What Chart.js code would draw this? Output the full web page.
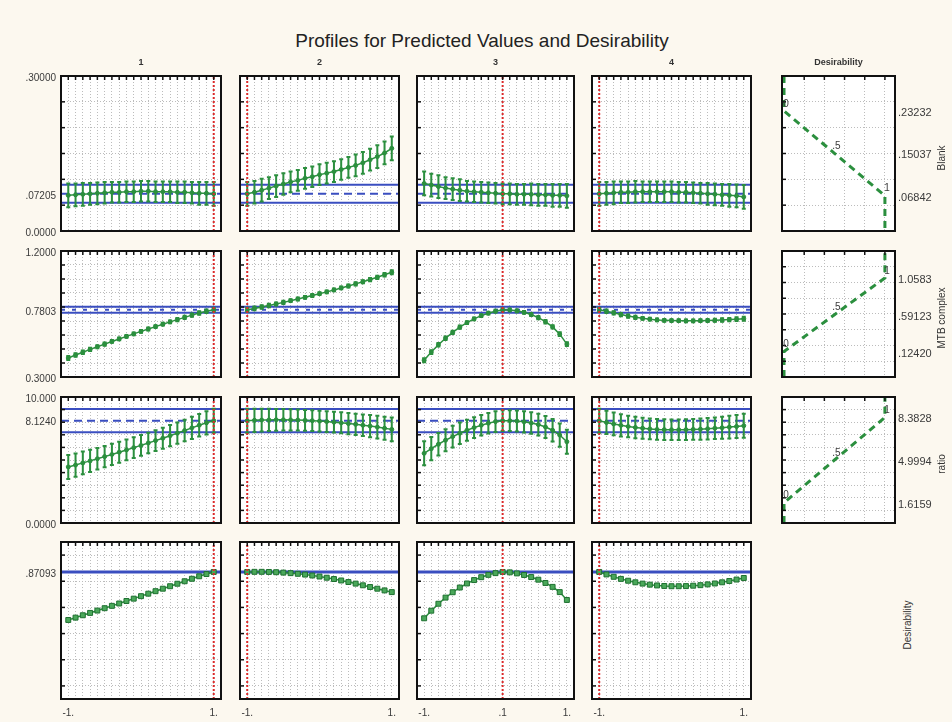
<!DOCTYPE html>
<html>
<head>
<meta charset="utf-8">
<title>Profiles for Predicted Values and Desirability</title>
<script src="https://cdn.jsdelivr.net/npm/chart.js@4.4.1/dist/chart.umd.min.js"></script>
<style>
  html, body { margin: 0; padding: 0; }
  body { width: 952px; height: 722px; background: #fcf8ef; position: relative; overflow: hidden;
         font-family: "Liberation Sans", Arial, sans-serif; color: #333; }
  canvas { position: absolute; }
  .lbl { position: absolute; white-space: nowrap; transform: translate(-50%, -50%); line-height: 1; }
</style>
</head>
<body>
<script>
// factor levels (x of every profile)
const xLevels = [-1,-0.9,-0.8,-0.7,-0.6,-0.5,-0.4,-0.3,-0.2,-0.1,0,0.1,0.2,0.3,0.4,0.5,0.6,0.7,0.8,0.9,1];
const factorNames = ['1', '2', '3', '4'];
const optimum = [1, -1, 0.1, -1];
const bottomVals = [[-1, 1], [-1, 1], [-1, 0.1, 1], [-1, 1]];
const bottomText = [['-1.', '1.'], ['-1.', '1.'], ['-1.', '.1', '1.'], ['-1.', '1.']];

// Blank
const blankF1 = [0.069,0.070,0.071,0.072,0.073,0.074,0.075,0.075,0.076,0.076,0.077,0.077,0.076,0.076,0.076,0.075,0.075,0.074,0.073,0.073,0.072];
const blankF2 = [0.072,0.075,0.079,0.083,0.087,0.091,0.095,0.098,0.102,0.105,0.109,0.112,0.115,0.119,0.123,0.127,0.132,0.138,0.144,0.151,0.160];
const blankF3 = [0.092,0.089,0.086,0.083,0.081,0.079,0.077,0.076,0.075,0.074,0.073,0.072,0.072,0.071,0.071,0.071,0.070,0.070,0.069,0.069,0.068];
const blankF4 = [0.072,0.073,0.074,0.075,0.075,0.076,0.076,0.076,0.076,0.076,0.076,0.075,0.075,0.074,0.073,0.072,0.071,0.070,0.069,0.068,0.066];
const blankErr = [0.023,0.022,0.022,0.021,0.021,0.021,0.020,0.020,0.020,0.020,0.020,0.020,0.020,0.020,0.020,0.021,0.021,0.021,0.022,0.022,0.023];
const blankRef = [0.0895, 0.07205, 0.0546];
const blankGrid = [0.05, 0.10, 0.15, 0.20, 0.25];
const blankTickVals = [0.3, 0.07205, 0];
const blankTickText = ['.30000', '.07205', '0.0000'];
const blankDesX = [0, 0, 0.5, 1, 1];
const blankDesY = [0.3, 0.23232, 0.15037, 0.06842, 0];
const blankDesText = ['.23232', '.15037', '.06842'];

// MTB complex
const mtbF1 = [0.436,0.457,0.477,0.497,0.516,0.535,0.554,0.572,0.590,0.608,0.626,0.643,0.660,0.677,0.694,0.710,0.726,0.742,0.757,0.770,0.780];
const mtbF2 = [0.780,0.790,0.800,0.811,0.822,0.833,0.845,0.857,0.869,0.882,0.895,0.908,0.922,0.936,0.950,0.965,0.980,0.996,1.012,1.030,1.048];
const mtbF3 = [0.420,0.478,0.530,0.577,0.619,0.656,0.688,0.715,0.738,0.756,0.770,0.780,0.779,0.773,0.762,0.746,0.724,0.695,0.658,0.606,0.535];
const mtbF4 = [0.780,0.770,0.758,0.746,0.735,0.726,0.719,0.713,0.708,0.705,0.703,0.702,0.701,0.701,0.702,0.703,0.705,0.707,0.710,0.713,0.716];
const mtbErr = [0.014,0.013,0.012,0.012,0.011,0.011,0.010,0.010,0.010,0.010,0.010,0.010,0.010,0.010,0.010,0.011,0.011,0.012,0.012,0.013,0.014];
const mtbRef = [0.801, 0.7803, 0.759];
const mtbGrid = [0.4, 0.5, 0.6, 0.7, 0.8, 0.9, 1.0, 1.1];
const mtbTickVals = [1.2, 0.7803, 0.3];
const mtbTickText = ['1.2000', '0.7803', '0.3000'];
const mtbDesX = [0, 0, 0.5, 1, 1];
const mtbDesY = [-0.2, 0.1242, 0.59123, 1.0583, 1.4];
const mtbDesText = ['.12420', '.59123', '1.0583'];
const mtbDesGrid = [0, 0.2, 0.4, 0.6, 0.8, 1.0, 1.2];

// ratio
const ratioF1 = [4.45,4.60,4.77,4.93,5.10,5.27,5.44,5.62,5.80,5.98,6.16,6.35,6.54,6.73,6.93,7.13,7.34,7.55,7.76,7.95,8.12];
const ratioF2 = [8.12,8.15,8.17,8.18,8.19,8.19,8.18,8.17,8.15,8.12,8.09,8.05,8.00,7.95,7.89,7.83,7.76,7.69,7.61,7.52,7.43];
const ratioF3 = [5.53,5.90,6.25,6.57,6.86,7.12,7.36,7.57,7.76,7.92,8.05,8.12,8.12,8.09,8.03,7.94,7.81,7.62,7.36,6.98,6.45];
const ratioF4 = [8.12,7.98,7.86,7.75,7.66,7.58,7.52,7.47,7.43,7.41,7.40,7.40,7.41,7.43,7.45,7.48,7.52,7.56,7.61,7.66,7.72];
const ratioErr = [0.95,0.92,0.90,0.88,0.86,0.85,0.84,0.83,0.82,0.82,0.82,0.82,0.82,0.83,0.84,0.85,0.86,0.88,0.90,0.92,0.95];
const ratioRef = [9.05, 8.124, 7.20];
const ratioGrid = [1, 2, 3, 4, 5, 6, 7, 8, 9];
const ratioTickVals = [10, 8.124, 0];
const ratioTickText = ['10.000', '8.1240', '0.0000'];
const ratioDesX = [0, 0, 0.5, 1, 1];
const ratioDesY = [0, 1.6159, 4.9994, 8.3828, 10];
const ratioDesText = ['1.6159', '4.9994', '8.3828'];

// Desirability
const desF1 = [0.504,0.522,0.540,0.558,0.576,0.594,0.612,0.630,0.649,0.667,0.686,0.705,0.724,0.743,0.762,0.781,0.800,0.819,0.838,0.855,0.871];
const desF2 = [0.871,0.872,0.872,0.871,0.869,0.866,0.862,0.857,0.851,0.844,0.836,0.827,0.817,0.806,0.794,0.782,0.769,0.756,0.743,0.730,0.717];
const desF3 = [0.517,0.575,0.628,0.675,0.716,0.752,0.783,0.809,0.831,0.849,0.862,0.871,0.868,0.860,0.848,0.832,0.812,0.787,0.757,0.717,0.657];
const desF4 = [0.871,0.852,0.834,0.818,0.804,0.792,0.782,0.774,0.768,0.764,0.762,0.762,0.763,0.766,0.770,0.776,0.783,0.792,0.802,0.813,0.825];
const desRef = [0.87093];
const desGrid = [0, 0.2, 0.4, 0.6, 0.8, 1.0];
const desTickVals = [0.87093];
const desTickText = ['.87093'];

const desLevels = [0, 0.5, 1];
const desLevelText = ['0', '.5', '1'];
const desXGrid = [0.2, 0.4, 0.6, 0.8, 1.0];

// layout
const colLeft = [61, 240, 417, 592];
const colWidth = [160, 159, 157, 159];
const rowTop = [76, 251, 397, 542];
const rowHeight = [155, 126, 126, 157];
const desLeft = 782, desWidth = 113;

const GREEN = '#2b8f3e', BLUE = '#3a4ec0', RED = '#dc2a2a', GRID = '#bcbcbc';
Chart.defaults.font.family = '"Liberation Sans", Arial, sans-serif';

const rows = [
  {name: 'Blank', series: [blankF1, blankF2, blankF3, blankF4], err: blankErr, ref: blankRef, min: 0, max: 0.3, grid: blankGrid,
   tickVals: blankTickVals, tickText: blankTickText, des: {x: blankDesX, y: blankDesY, text: blankDesText, min: 0, max: 0.3, grid: blankGrid}},
  {name: 'MTB complex', series: [mtbF1, mtbF2, mtbF3, mtbF4], err: mtbErr, ref: mtbRef, min: 0.3, max: 1.2, grid: mtbGrid,
   tickVals: mtbTickVals, tickText: mtbTickText, des: {x: mtbDesX, y: mtbDesY, text: mtbDesText, min: -0.2, max: 1.4, grid: mtbDesGrid}},
  {name: 'ratio', series: [ratioF1, ratioF2, ratioF3, ratioF4], err: ratioErr, ref: ratioRef, min: 0, max: 10, grid: ratioGrid,
   tickVals: ratioTickVals, tickText: ratioTickText, des: {x: ratioDesX, y: ratioDesY, text: ratioDesText, min: 0, max: 10, grid: ratioGrid}},
  {name: 'Desirability', series: [desF1, desF2, desF3, desF4], err: null, ref: desRef, min: -0.1, max: 1.1, grid: desGrid,
   tickVals: desTickVals, tickText: desTickText, des: null}
];

function panelPlugin(labels) {
  return {
    id: 'panel',
    beforeDraw(chart) {
      const {ctx, chartArea: a} = chart;
      ctx.save();
      ctx.fillStyle = '#ffffff';
      ctx.fillRect(a.left, a.top, a.width, a.height);
      ctx.restore();
    },
    beforeDatasetDraw(chart, args) {
      const ds = chart.data.datasets[args.index];
      if (!ds.errors) return;
      const {ctx, chartArea: a, scales: {x, y}} = chart;
      ctx.save();
      ctx.beginPath();
      ctx.rect(a.left, a.top, a.width, a.height);
      ctx.clip();
      ctx.strokeStyle = ds.borderColor;
      ctx.lineWidth = 2;
      ds.data.forEach((p, i) => {
        const px = x.getPixelForValue(p.x);
        const y1 = y.getPixelForValue(p.y - ds.errors[i]);
        const y2 = y.getPixelForValue(p.y + ds.errors[i]);
        ctx.beginPath();
        ctx.moveTo(px, y1); ctx.lineTo(px, y2);
        ctx.moveTo(px - 2, y1); ctx.lineTo(px + 2, y1);
        ctx.moveTo(px - 2, y2); ctx.lineTo(px + 2, y2);
        ctx.stroke();
      });
      ctx.restore();
    },
    afterDraw(chart) {
      const {ctx, chartArea: a, scales: {x, y}} = chart;
      ctx.save();
      // inward tick marks on top and left edges
      ctx.strokeStyle = '#111';
      ctx.lineWidth = 1.5;
      x.ticks.forEach(t => {
        const px = x.getPixelForValue(t.value);
        ctx.beginPath(); ctx.moveTo(px, a.top); ctx.lineTo(px, a.top + 4); ctx.stroke();
      });
      y.ticks.forEach(t => {
        const py = y.getPixelForValue(t.value);
        ctx.beginPath(); ctx.moveTo(a.left, py); ctx.lineTo(a.left + 4, py); ctx.stroke();
      });
      ctx.lineWidth = 2;
      ctx.strokeRect(a.left, a.top, a.width, a.height);

      ctx.fillStyle = '#3a3a3a';
      ctx.textBaseline = 'middle';
      ctx.font = '10px "Liberation Sans", Arial, sans-serif';
      if (labels.left) {
        ctx.textAlign = 'right';
        labels.left.vals.forEach((v, i) => ctx.fillText(labels.left.text[i], a.left - 5, y.getPixelForValue(v) + 2));
      }
      if (labels.bottom) {
        ctx.textAlign = 'center';
        labels.bottom.vals.forEach((v, i) => ctx.fillText(labels.bottom.text[i], x.getPixelForValue(v), a.bottom + 14));
      }
      if (labels.marks) {
        ctx.textAlign = 'center';
        labels.marks.xs.forEach((v, i) => ctx.fillText(labels.marks.text[i], x.getPixelForValue(v) + 2, y.getPixelForValue(labels.marks.ys[i]) - 7));
      }
      if (labels.right) {
        ctx.textAlign = 'left';
        ctx.font = '11px "Liberation Sans", Arial, sans-serif';
        labels.right.vals.forEach((v, i) => ctx.fillText(labels.right.text[i], a.right + 3, y.getPixelForValue(v) + 2));
      }
      ctx.restore();
    }
  };
}

function addChart(left, top, w, h, xr, yr, datasets, labels) {
  const P = {left: 62, right: 58, top: 12, bottom: 24};
  const cv = document.createElement('canvas');
  cv.width = w + P.left + P.right;
  cv.height = h + P.top + P.bottom;
  cv.style.left = (left - P.left) + 'px';
  cv.style.top = (top - P.top) + 'px';
  document.body.appendChild(cv);
  const axis = (r) => ({
    type: 'linear', min: r.min, max: r.max,
    afterBuildTicks: s => { s.ticks = r.grid.map(v => ({value: v})); },
    ticks: {display: false},
    grid: {color: GRID, lineWidth: 1, drawTicks: false},
    border: {display: false, dash: [1, 2]}
  });
  return new Chart(cv, {
    type: 'line',
    data: {datasets},
    options: {
      responsive: false, animation: false, events: [],
      layout: {padding: P},
      scales: {x: axis(xr), y: axis(yr)},
      plugins: {legend: {display: false}, tooltip: {enabled: false}}
    },
    plugins: [panelPlugin(labels)]
  });
}

function hLine(yv, width, dash) {
  return {data: [{x: -1.1, y: yv}, {x: 1.1, y: yv}], borderColor: BLUE, borderWidth: width, borderDash: dash, pointRadius: 0};
}

rows.forEach((row, r) => {
  for (let c = 0; c < 4; c++) {
    const vals = row.series[c];
    const datasets = [
      {data: [{x: optimum[c], y: row.min}, {x: optimum[c], y: row.max}], borderColor: RED, borderWidth: 2, borderDash: [2, 2], pointRadius: 0},
      {data: xLevels.map((x, i) => ({x, y: vals[i]})), borderColor: GREEN, borderWidth: 1.5,
       pointRadius: row.err ? 2 : 3.5, pointStyle: row.err ? 'circle' : 'rect',
       pointBackgroundColor: row.err ? GREEN : '#4aa85a', pointBorderColor: row.err ? GREEN : '#1e7030', pointBorderWidth: 1,
       errors: row.err}
    ];
    if (row.ref.length === 3) {
      datasets.push(hLine(row.ref[0], 2, []), hLine(row.ref[1], 2, r === 1 ? [4, 7] : [8, 5]), hLine(row.ref[2], 2, []));
    } else {
      datasets.push(hLine(row.ref[0], 3, []));
    }
    const labels = {};
    if (c === 0) labels.left = {vals: row.tickVals, text: row.tickText};
    if (r === 3) labels.bottom = {vals: bottomVals[c], text: bottomText[c]};
    addChart(colLeft[c], rowTop[r], colWidth[c], rowHeight[r],
      {min: -1.1, max: 1.1, grid: xLevels}, {min: row.min, max: row.max, grid: row.grid}, datasets, labels);
  }
  if (row.des) {
    const d = row.des;
    const datasets = [{data: d.x.map((x, i) => ({x, y: d.y[i]})), borderColor: GREEN, borderWidth: 3, borderDash: [7, 5], pointRadius: 0}];
    const ys = d.y.slice(1, 4);
    const rightVals = ys.slice().sort((a, b) => b - a);
    const rightText = rightVals.map(v => d.text[ys.indexOf(v)]);
    addChart(desLeft, rowTop[r], desWidth, rowHeight[r],
      {min: -0.02, max: 1.1, grid: desXGrid}, {min: d.min, max: d.max, grid: d.grid}, datasets,
      {right: {vals: rightVals, text: rightText}, marks: {xs: desLevels, ys: ys, text: desLevelText}});
  }
});

function addText(txt, x, y, size, opts = {}) {
  const el = document.createElement('div');
  el.className = 'lbl';
  el.textContent = txt;
  el.style.left = x + 'px';
  el.style.top = y + 'px';
  el.style.fontSize = size + 'px';
  if (opts.bold) el.style.fontWeight = 'bold';
  if (opts.color) el.style.color = opts.color;
  if (opts.rotate) el.style.transform = 'translate(-50%, -50%) rotate(-90deg)';
  document.body.appendChild(el);
}

addText('Profiles for Predicted Values and Desirability', 482, 40, 19, {color: '#222'});
factorNames.forEach((n, c) => addText(n, colLeft[c] + colWidth[c] / 2, 62, 9, {bold: true, color: '#333'}));
addText('Desirability', desLeft + desWidth / 2, 62, 9, {bold: true, color: '#333'});
rows.forEach((row, r) => {
  const x = r === 3 ? 908 : 942;
  addText(row.name, x, rowTop[r] + rowHeight[r] / 2 + 4, 10, {rotate: true, color: '#333'});
});
</script>
</body>
</html>
